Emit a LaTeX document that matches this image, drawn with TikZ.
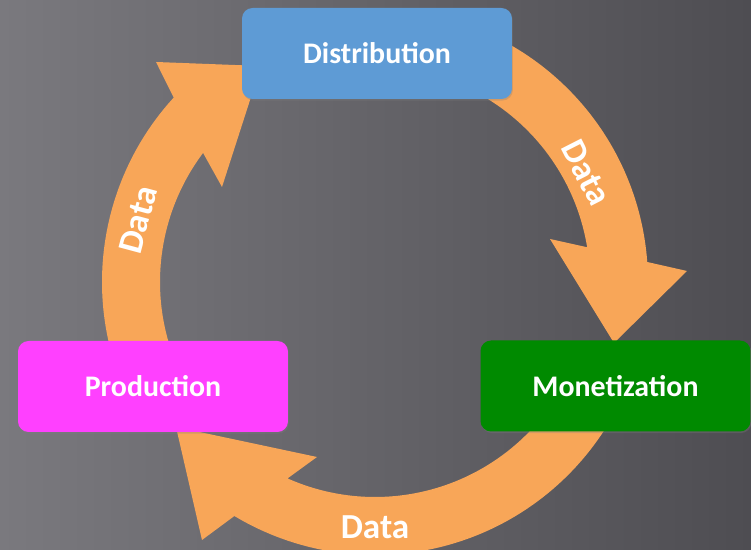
\documentclass[tikz,border=0pt]{standalone}
\usepackage{fontspec}
\setmainfont{Carlito}
\usetikzlibrary{calc,shadows}
\definecolor{bgleft}{RGB}{122,121,126}
\definecolor{bgright}{RGB}{78,77,82}
\definecolor{ringorange}{RGB}{248,166,88}
\definecolor{distblue}{RGB}{94,155,213}
\definecolor{prodpink}{RGB}{255,64,255}
\definecolor{monetgreen}{RGB}{0,138,0}
\tikzset{
  stage/.style={rectangle, rounded corners=6pt, minimum width=5.4cm, minimum height=1.82cm,
    text=white, font=\fontsize{17}{20}\selectfont\bfseries,
    drop shadow={opacity=0.3, shadow xshift=0.5pt, shadow yshift=-0.9pt}},
  datalabel/.style={text=white, font=\fontsize{20}{24}\selectfont\bfseries, inner sep=0pt},
  ring/.style={fill=ringorange}
}
\begin{document}
\begin{tikzpicture}[x=0.02cm, y=0.02cm]
\def\rin{215}
\def\rout{273}
\def\rmid{243}
\useasboundingbox (0,0) rectangle (751,550);
% background
\shade[left color=bgleft, right color=bgright] (0,0) rectangle (751,550);
\coordinate (c) at (375,268);
% Production -> Distribution
\fill[ring] ($(c)+(200:\rout)$) arc[start angle=200, end angle=137.5, radius=\rout]
  -- (156,488) -- (261,484) -- (222,363)
  -- ($(c)+(143.1:\rin)$) arc[start angle=143.1, end angle=200, radius=\rin] -- cycle;
% Distribution -> Monetization
\fill[ring] ($(c)+(80:\rout)$) arc[start angle=80, end angle=4.2, radius=\rout]
  -- (687,279) -- (614,207) -- (550,311)
  -- ($(c)+(9.3:\rin)$) arc[start angle=9.3, end angle=80, radius=\rin] -- cycle;
% Monetization -> Production
\fill[ring] ($(c)+(-20:\rout)$) arc[start angle=-20, end angle=-121, radius=\rout]
  -- (202,10) -- (176,123) -- (317,93)
  -- ($(c)+(-114:\rin)$) arc[start angle=-114, end angle=-20, radius=\rin] -- cycle;
% stages
\node[stage, fill=distblue] (dist) at (377,496.5) {Distribution};
\node[stage, fill=prodpink] (prod) at (153,163.5) {Production};
\node[stage, fill=monetgreen] (monet) at (615.5,164) {Monetization};
% labels on the ring
\node[datalabel, rotate=75] (dataleft) at ($(c)+(165.3:245)$) {Data};
\node[datalabel, rotate=-63] (dataright) at ($(c)+(27.3:238)$) {Data};
\node[datalabel] (databottom) at ($(c)+(270:245)$) {Data};
\end{tikzpicture}
\end{document}
